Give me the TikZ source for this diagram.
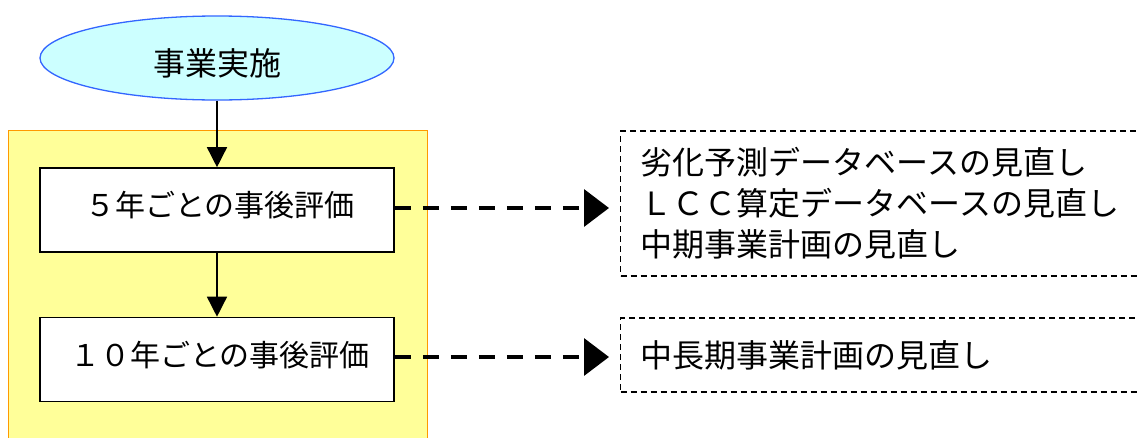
\documentclass[tikz,border=0pt]{standalone}
\usepackage{fontspec}
\newfontfamily\jp{Noto Sans CJK JP}
\usetikzlibrary{shapes.geometric,arrows.meta,calc}
\definecolor{ellfill}{HTML}{CCFFFF}
\definecolor{elldraw}{HTML}{3366FF}
\definecolor{grpfill}{HTML}{FFFF99}
\definecolor{grpdraw}{HTML}{FF9900}
\newcommand{\shiftv}[2]{\raisebox{#1}[\height][\depth]{#2}}
\tikzset{
  startell/.style={ellipse, draw=elldraw, fill=ellfill, line width=1.3pt,
    minimum width=354pt, minimum height=84pt, inner sep=0pt,
    font={\jp\fontsize{32}{38}\selectfont}},
  evalbox/.style={rectangle, draw=black, fill=white, line width=1.6pt,
    minimum width=354pt, minimum height=84pt, inner sep=0pt,
    font={\jp\fontsize{30}{36}\selectfont}},
  resultbox/.style={rectangle, draw=black, fill=white, line width=1.3pt,
    dash pattern=on 6pt off 4pt, anchor=west, inner xsep=20pt, inner ysep=0pt,
    text width=490pt, align=left,
    font={\jp\fontsize{32}{41}\selectfont}},
  flowarrow/.style={line width=1.5pt, -{Triangle[length=20pt,width=20pt]}},
  feedarrow/.style={line width=3.5pt, dash pattern=on 16pt off 12pt,
    -{Triangle[length=25pt,width=37pt]}},
}
\begin{document}
\begin{tikzpicture}[x=1pt,y=-1pt]
\useasboundingbox (0,0) rectangle (1138,437);
\clip (0,0) rectangle (1138,437);
\fill[white] (0,0) rectangle (1138,437);
% group background
\node[draw=grpdraw, fill=grpfill, line width=1.2pt, minimum width=419pt,
  minimum height=330pt, inner sep=0pt, anchor=north west] (grp) at (8,130) {};
% nodes
\node[startell] (start) at (217,58) {\shiftv{-5pt}{事業実施}};
\node[evalbox] (e5) at (217,210) {\shiftv{5pt}{\hspace{6pt}５年ごとの事後評価}};
\node[evalbox] (e10) at (217,359.5) {\shiftv{4pt}{\hspace{6pt}１０年ごとの事後評価}};
\node[resultbox, minimum height=145pt] (r1) at (620,203.5)
  {劣化予測データベースの見直し\\ＬＣＣ算定データベースの見直し\\中期事業計画の見直し};
\node[resultbox, minimum height=74pt] (r2) at (620,355)
  {中長期事業計画の見直し};
% connectors
\draw[flowarrow] (start.south) -- (e5.north);
\draw[flowarrow] (e5.south) -- (e10.north);
\draw[feedarrow, shorten >=11pt] ($(e5.east)+(0,-2)$) -- ($(e5.east -| r1.west)+(0,-2)$);
\draw[feedarrow, shorten >=11pt] ($(e10.east)+(0,-2.5)$) -- ($(e10.east -| r2.west)+(0,-2.5)$);
\end{tikzpicture}
\end{document}
